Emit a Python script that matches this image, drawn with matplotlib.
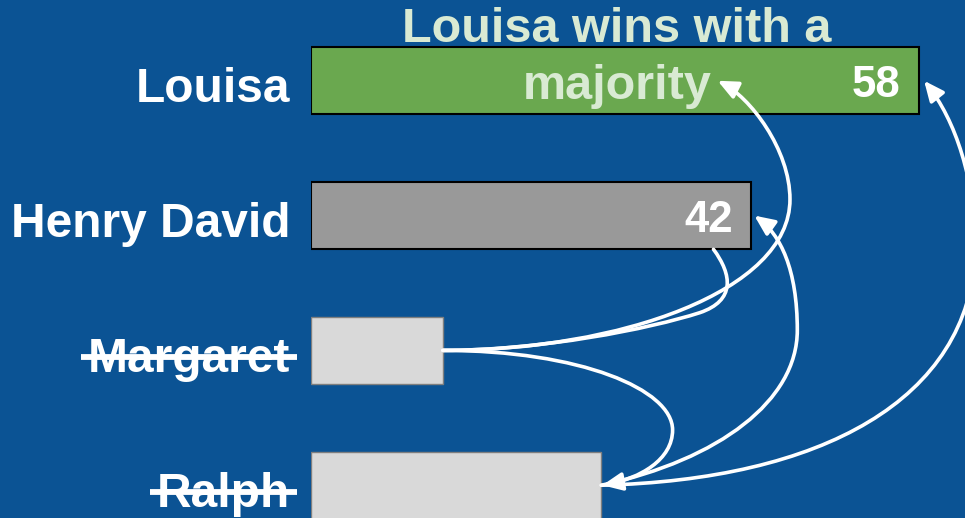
import matplotlib
matplotlib.use('Agg')
import matplotlib.pyplot as plt
import matplotlib.transforms as mtransforms
from matplotlib.path import Path
from matplotlib.patches import FancyArrowPatch, ArrowStyle
from matplotlib.lines import Line2D

names = ['Louisa', 'Henry David', 'Margaret', 'Ralph']
votes = [58, 42, 12.6, 27.7]
eliminated = ['Margaret', 'Ralph']
title = 'Louisa wins with a\nmajority'

bg = '#0b5394'
fills = ['#6aa84f', '#999999', '#d9d9d9', '#d9d9d9']
edges = ['black', 'black', '#7f7f7f', '#7f7f7f']
edge_w = [1.5, 1.5, 1.0, 1.0]

plt.rcParams['font.family'] = ['Liberation Sans', 'DejaVu Sans']

fig = plt.figure(figsize=(9.65, 5.18), dpi=100, facecolor=bg)
ax = fig.add_axes([311 / 965, 0, 654 / 965, 1])
ax.set_facecolor(bg)

pos = list(range(len(names)))
ax.barh(pos, votes, height=0.5, color=fills, edgecolor=edges, linewidth=edge_w, zorder=2)
ax.set_xlim(0, 62.4)
ax.set_ylim(3.243, -0.599)
for s in ax.spines.values():
    s.set_visible(False)
ax.set_xticks([])
ax.set_yticks(pos, names, fontsize=34.5, fontweight='bold', color='white')
ax.tick_params(axis='y', length=0, pad=15)
shift = mtransforms.ScaledTranslation(0, -4 / 100, fig.dpi_scale_trans)
for lab in ax.get_yticklabels():
    lab.set_transform(lab.get_transform() + shift)

# numbers inside the two remaining bars
for i in range(2):
    ax.annotate(str(votes[i]), (votes[i], i), xytext=(-13, -12), textcoords='offset points',
                ha='right', va='baseline', fontsize=31.5, fontweight='bold', color='white', zorder=4)

# baseline of the last line ("majority")
fig.text(617 / 965, 1 - 99 / 518, title, ha='center', va='baseline', fontsize=35,
         fontweight='bold', color='#d9ead3', linespacing=1.33, zorder=5)

# vote transfers
M, C4 = Path.MOVETO, Path.CURVE4
head = ArrowStyle('-|>', head_length=0.6, head_width=0.27)
transfers = [
    # Margaret -> "majority"
    ([(votes[2], 2), (29.5, 2.0), (45.7, 1.56), (45.7, 0.88),
      (45.7, 0.51), (41.9, 0.12), (38.8, 0.0)], True),
    # Margaret -> bottom of Henry David (no head)
    ([(votes[2], 2), (21.9, 2.0), (32.3, 1.84), (37.1, 1.72),
      (40.5, 1.63), (40.2, 1.44), (38.4, 1.25)], False),
    # Margaret -> Ralph
    ([(votes[2], 2), (25.7, 2.0), (34.5, 2.29), (34.5, 2.59),
      (34.5, 2.81), (31.4, 2.95), (votes[3] + 0.1, 3)], True),
    # Ralph -> Henry David
    ([(votes[3], 3), (39.0, 2.81), (46.4, 2.37), (46.4, 1.85),
      (46.4, 1.40), (44.8, 1.14), (votes[1] + 0.3, 1)], True),
    # Ralph -> Louisa
    ([(votes[3], 3), (48.6, 2.96), (62.9, 2.37), (63.4, 1.255),
      (63.4, 0.736), (61.5, 0.291), (votes[0] + 0.5, 0)], True),
]
for pts, has_head in transfers:
    p = Path(pts, [M, C4, C4, C4, C4, C4, C4])
    ax.add_patch(FancyArrowPatch(path=p, arrowstyle=head if has_head else '-',
                                 mutation_scale=20, color='white', lw=2.6,
                                 zorder=6, clip_on=False))

# strike through the eliminated names
fig.canvas.draw()
r = fig.canvas.get_renderer()
inv = fig.transFigure.inverted()
for lab in ax.get_yticklabels():
    if lab.get_text() in eliminated:
        bb = lab.get_window_extent(r)
        y = bb.y0 + 0.56 * bb.height
        (x0, y0), (x1, y1) = inv.transform([(bb.x0 - 7, y), (bb.x1 + 7, y)])
        fig.add_artist(Line2D([x0, x1], [y0, y1], color='white', lw=4.2, solid_capstyle='butt'))

fig.savefig('out.png', dpi=100, facecolor=bg)
